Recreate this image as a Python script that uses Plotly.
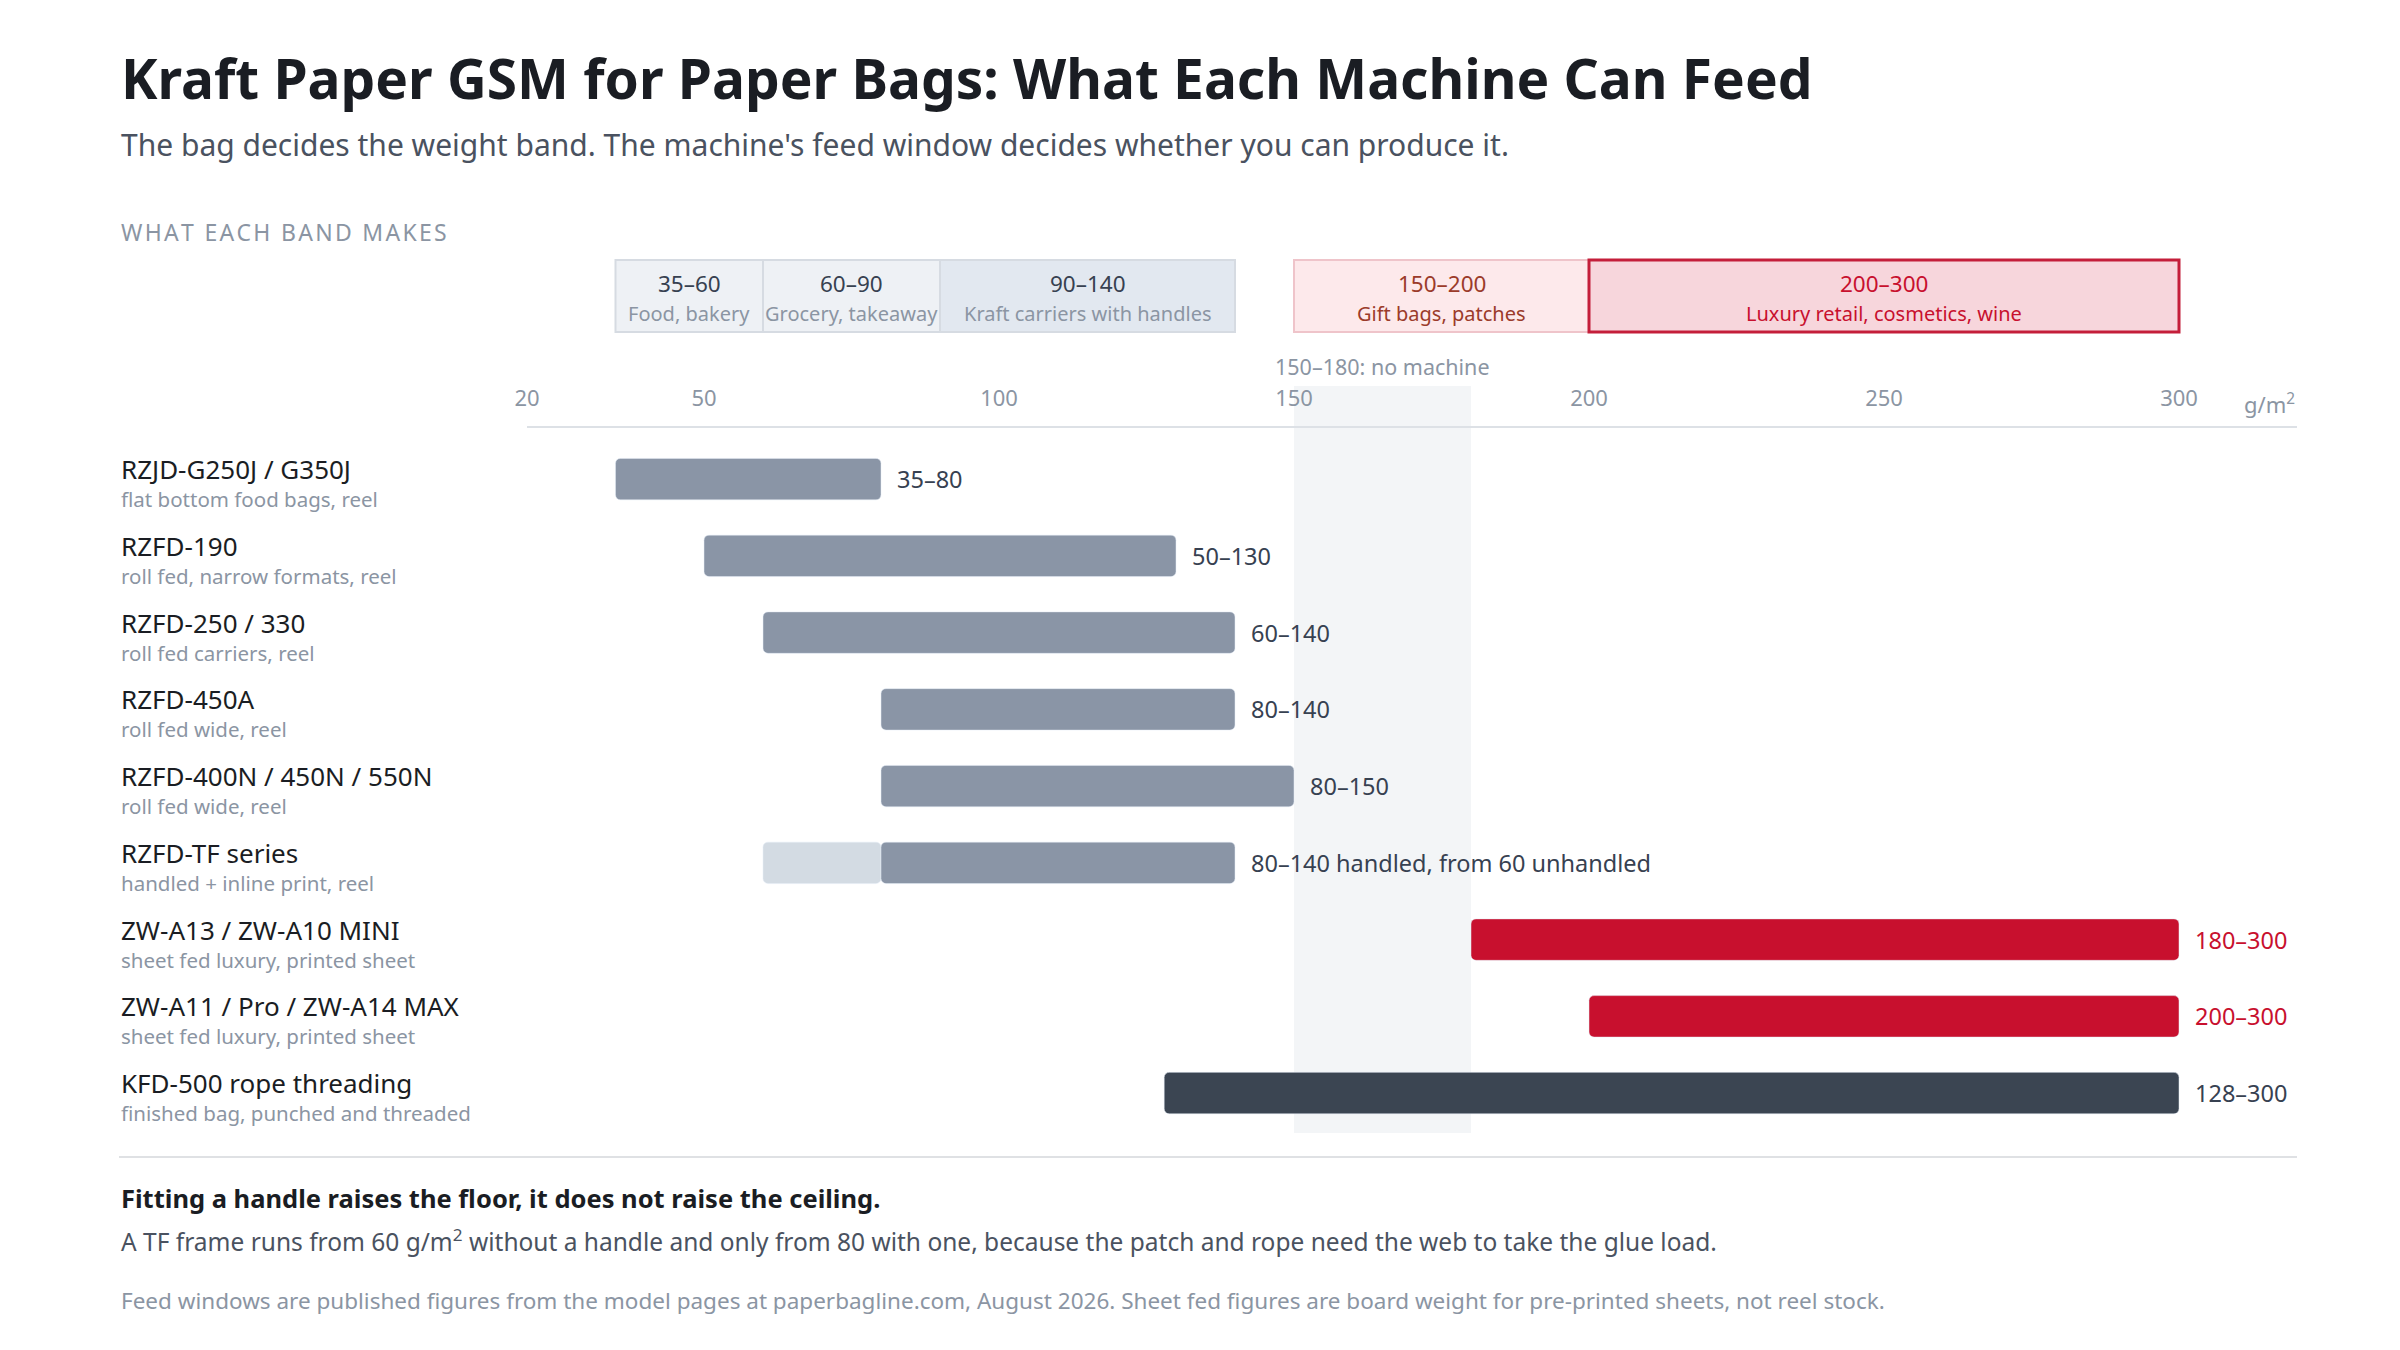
import plotly.graph_objects as go

# --- données : fenêtres d'alimentation par machine (g/m²) ---
machines = ["RZJD-G250J / G350J", "RZFD-190", "RZFD-250 / 330", "RZFD-450A",
            "RZFD-400N / 450N / 550N", "RZFD-TF series", "ZW-A13 / ZW-A10 MINI",
            "ZW-A11 / Pro / ZW-A14 MAX", "KFD-500 rope threading"]
descriptions = ["flat bottom food bags, reel", "roll fed, narrow formats, reel",
                "roll fed carriers, reel", "roll fed wide, reel", "roll fed wide, reel",
                "handled + inline print, reel", "sheet fed luxury, printed sheet",
                "sheet fed luxury, printed sheet", "finished bag, punched and threaded"]
feed_min = [35, 50, 60, 80, 80, 80, 180, 200, 128]
feed_max = [80, 130, 140, 140, 150, 140, 300, 300, 300]
value_labels = ["35–80", "50–130", "60–140", "80–140", "80–150",
                "80–140 handled, from 60 unhandled", "180–300", "200–300", "128–300"]
groups = ["reel", "reel", "reel", "reel", "reel", "reel", "sheet", "sheet", "finished"]

# TF sans poignée
tf_unhandled_min = 60

# --- bandes de grammage ---
band_lo = [35, 60, 90, 150, 200]
band_hi = [60, 90, 140, 200, 300]
band_range = ["35–60", "60–90", "90–140", "150–200", "200–300"]
band_use = ["Food, bakery", "Grocery, takeaway", "Kraft carriers with handles",
            "Gift bags, patches", "Luxury retail, cosmetics, wine"]

gap_lo, gap_hi = 150, 180
ticks = [20, 50, 100, 150, 200, 250, 300]

FONT = "Noto Sans"
GREY_TXT = "#8b95a3"
bar_colors = {"reel": "#8a95a6", "sheet": "#c8102e", "finished": "#3b4552"}
label_colors = {"reel": "#374151", "sheet": "#c8102e", "finished": "#374151"}

# géométrie (pixels)
W, H = 2400, 1350
L, R, T, B = 519, 111, 420, 225
PW, PH = W - L - R, H - T - B


def px(x):
    return (x - L) / PW


def py(y):
    return (H - B - y) / PH


fig = go.Figure()

fig.add_trace(go.Bar(
    y=[machines[5]], x=[feed_min[5] - tf_unhandled_min], base=[tf_unhandled_min],
    orientation="h", width=0.54, marker_color="#d3dbe3", hoverinfo="skip",
))
fig.add_trace(go.Bar(
    y=machines, x=[hi - lo for lo, hi in zip(feed_min, feed_max)], base=feed_min,
    orientation="h", width=0.54, marker_color=[bar_colors[g] for g in groups],
    hoverinfo="skip",
))

ann = []
for i, m in enumerate(machines):
    ann.append(dict(x=px(111), y=m, xref="paper", yref="y", text=m, showarrow=False,
                    xanchor="left", yanchor="middle", yshift=10,
                    font=dict(family=FONT, size=26, color="#1a1d23")))
    ann.append(dict(x=px(111), y=m, xref="paper", yref="y", text=descriptions[i],
                    showarrow=False, xanchor="left", yanchor="middle", yshift=-20,
                    font=dict(family=FONT, size=20.5, color=GREY_TXT)))
    ann.append(dict(x=feed_max[i], y=m, xref="x", yref="y", text=value_labels[i],
                    showarrow=False, xanchor="left", yanchor="middle", xshift=14,
                    font=dict(family=FONT, size=23.5, color=label_colors[groups[i]])))

shapes = []
# zone sans machine
shapes.append(dict(type="rect", xref="x", yref="paper", x0=gap_lo, x1=gap_hi,
                   y0=py(1125), y1=py(378), fillcolor="#f3f5f7", line_width=0,
                   layer="below"))

band_fill = ["#eef1f5", "#eef1f5", "#e2e8f0", "#fde9eb", "#f7d6dc"]
band_line = ["#d6dbe2", "#d6dbe2", "#d6dbe2", "#efc4ca", "#c41e3a"]
band_lw = [2, 2, 2, 2, 3]
band_top_col = ["#374151", "#374151", "#374151", "#9b3b2a", "#c8102e"]
band_sub_col = [GREY_TXT, GREY_TXT, GREY_TXT, "#9b3b2a", "#c8102e"]
for i in range(len(band_lo)):
    shapes.append(dict(type="rect", xref="x", yref="paper", x0=band_lo[i], x1=band_hi[i],
                       y0=py(324), y1=py(252), fillcolor=band_fill[i],
                       line=dict(color=band_line[i], width=band_lw[i])))
    mid = (band_lo[i] + band_hi[i]) / 2
    ann.append(dict(x=mid, y=py(276), xref="x", yref="paper", text=band_range[i],
                    showarrow=False, xanchor="center", yanchor="middle",
                    font=dict(family=FONT, size=22.5, color=band_top_col[i])))
    ann.append(dict(x=mid, y=py(305), xref="x", yref="paper", text=band_use[i],
                    showarrow=False, xanchor="center", yanchor="middle",
                    font=dict(family=FONT, size=20, color=band_sub_col[i])))

ann.append(dict(x=(gap_lo + gap_hi) / 2, y=py(358), xref="x", yref="paper",
                text="150–180: no machine", showarrow=False, xanchor="center",
                yanchor="middle", font=dict(family=FONT, size=21.5, color=GREY_TXT)))
ann.append(dict(x=1.0, y=py(396), xref="paper", yref="paper", text="g/m<sup>2</sup>",
                showarrow=False, xanchor="right", yanchor="middle",
                font=dict(family=FONT, size=22, color=GREY_TXT)))

# séparateur bas
shapes.append(dict(type="line", xref="paper", yref="paper", x0=px(111), x1=1.0,
                   y0=py(1149), y1=py(1149), line=dict(color="#dfe1e4", width=2)))

# textes
spaced = "\u200a".join("WHAT EACH BAND MAKES")
texts = [
    (70, "<b>Kraft Paper GSM for Paper Bags: What Each Machine Can Feed</b>", 55, "#1a1d23"),
    (136, "The bag decides the weight band. The machine's feed window decides whether you can produce it.", 30, "#4a5260"),
    (224, spaced, 23, GREY_TXT),
    (1190, "<b>Fitting a handle raises the floor, it does not raise the ceiling.</b>", 25.5, "#1a1d23"),
    (1232, "A TF frame runs from 60 g/m<sup>2</sup> without a handle and only from 80 with one, because the patch and rope need the web to take the glue load.", 24.5, "#4a5260"),
    (1292, "Feed windows are published figures from the model pages at paperbagline.com, August 2026. Sheet fed figures are board weight for pre-printed sheets, not reel stock.", 22.5, GREY_TXT),
]
for y, t, s, c in texts:
    ann.append(dict(x=px(111), y=py(y), xref="paper", yref="paper", text=t,
                    showarrow=False, xanchor="left", yanchor="middle",
                    font=dict(family=FONT, size=s, color=c)))

fig.update_layout(
    width=W, height=H, margin=dict(l=L, r=R, t=T, b=B),
    paper_bgcolor="white", plot_bgcolor="rgba(0,0,0,0)",
    barmode="overlay", barcornerradius=5, showlegend=False,
    shapes=shapes, annotations=ann,
)
fig.update_xaxes(range=[20, 320], side="top", tickvals=ticks, showgrid=False,
                 zeroline=False, showline=True, linecolor="#dde1e6", linewidth=2,
                 ticks="", ticklabelstandoff=11,
                 tickfont=dict(family=FONT, size=22, color=GREY_TXT))
fig.update_yaxes(categoryorder="array", categoryarray=machines,
                 range=[8.52, -0.666], showticklabels=False, showgrid=False, zeroline=False)

fig.write_html("out.html")
